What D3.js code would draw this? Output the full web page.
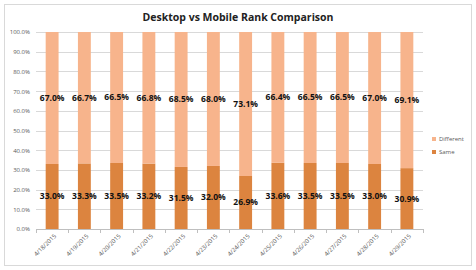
<!DOCTYPE html>
<html>
<head>
<meta charset="utf-8">
<script src="https://cdn.jsdelivr.net/npm/d3@7"></script>
<style>
  body { margin: 0; background: #fff; }
  svg { display: block; font-family: "Open Sans", "Liberation Sans", sans-serif; }
</style>
</head>
<body>
<div id="chart-area"></div>
<script>
// data
const dates = ["4/18/2015", "4/19/2015", "4/20/2015", "4/21/2015", "4/22/2015", "4/23/2015",
  "4/24/2015", "4/25/2015", "4/26/2015", "4/27/2015", "4/28/2015", "4/29/2015"]
const same = [33.0, 33.3, 33.5, 33.2, 31.5, 32.0, 26.9, 33.6, 33.5, 33.5, 33.0, 30.9]
const different = [67.0, 66.7, 66.5, 66.8, 68.5, 68.0, 73.1, 66.4, 66.5, 66.5, 67.0, 69.1]
const seriesNames = ["Different", "Same"]
const yTicks = [0, 10, 20, 30, 40, 50, 60, 70, 80, 90, 100]

const W = 476, H = 270
const margin = { left: 36, right: 53, top: 32, bottom: 41 }
const width = W - margin.left - margin.right,
  height = H - margin.top - margin.bottom

const colors = { Same: "#dc843f", Different: "#f7b48c" }

const svg = d3.select("#chart-area")
  .append("svg")
    .attr("width", W)
    .attr("height", H)

// outer frame
svg.append("rect")
  .attr("x", 4.5).attr("y", 4.5)
  .attr("width", W - 9).attr("height", H - 9)
  .attr("fill", "#fff")
  .attr("stroke", "#d9d9d9")

// title
svg.append("text")
  .attr("x", 238)
  .attr("y", 21)
  .attr("text-anchor", "middle")
  .attr("font-size", "10.5px")
  .attr("font-weight", "bold")
  .attr("fill", "#222")
  .text("Desktop vs Mobile Rank Comparison")

const g = svg.append("g")
  .attr("transform", `translate(${margin.left}, ${margin.top})`)

const x = d3.scaleBand()
  .domain(dates)
  .range([0, width])
  .paddingInner(0.6)
  .paddingOuter(0.3)

const y = d3.scaleLinear()
  .domain([0, 100])
  .range([height, 0])

// gridlines
g.append("g")
  .selectAll("line")
  .data(yTicks)
  .enter().append("line")
    .attr("x1", 0)
    .attr("x2", width)
    .attr("y1", d => Math.round(y(d)) + 0.5)
    .attr("y2", d => Math.round(y(d)) + 0.5)
    .attr("stroke", "#d9d9d9")

// y axis labels
const yAxisCall = d3.axisLeft(y)
  .tickValues(yTicks)
  .tickSize(0)
  .tickPadding(6)
  .tickFormat(d => d.toFixed(1) + "%")

const yAxisGroup = g.append("g").call(yAxisCall)
yAxisGroup.select(".domain").remove()
yAxisGroup.selectAll("text")
  .attr("font-size", "6px")
  .attr("fill", "#595959")
  .attr("font-family", "Open Sans, Liberation Sans, sans-serif")

// stacked bars
const rows = dates.map((d, i) => ({ date: d, Same: same[i], Different: different[i] }))
const stack = d3.stack().keys(["Same", "Different"])(rows)

stack.forEach(layer => {
  g.append("g")
    .attr("fill", colors[layer.key])
    .selectAll("rect")
    .data(layer)
    .enter().append("rect")
      .attr("x", d => x(d.data.date))
      .attr("width", x.bandwidth())
      .attr("y", d => y(d[1]))
      .attr("height", d => y(d[0]) - y(d[1]))

  g.append("g")
    .selectAll("text")
    .data(layer)
    .enter().append("text")
      .attr("x", d => x(d.data.date) + x.bandwidth() / 2)
      .attr("y", d => y((d[0] + d[1]) / 2))
      .attr("dy", "0.35em")
      .attr("text-anchor", "middle")
      .attr("font-size", "8.5px")
      .attr("font-weight", "bold")
      .attr("fill", "#111")
      .text(d => (d[1] - d[0]).toFixed(1) + "%")
})

// x axis line and ticks between categories
const xAxis = g.append("g").attr("transform", `translate(0, ${height})`)
xAxis.append("line")
  .attr("x1", 0).attr("x2", width)
  .attr("y1", 0.5).attr("y2", 0.5)
  .attr("stroke", "#bfbfbf")

const step = x.step()
const edges = dates.map(d => x(d) - step * x.paddingInner() / 2)
edges.push(width)
xAxis.selectAll(".tick-mark")
  .data(edges)
  .enter().append("line")
    .attr("x1", d => Math.round(d) + 0.5)
    .attr("x2", d => Math.round(d) + 0.5)
    .attr("y1", 0)
    .attr("y2", 4)
    .attr("stroke", "#bfbfbf")

xAxis.selectAll(".xlab")
  .data(dates)
  .enter().append("text")
    .attr("transform", d => `translate(${x(d) + x.bandwidth() / 2 + 3}, 6) rotate(-45)`)
    .attr("text-anchor", "end")
    .attr("dy", "0.35em")
    .attr("font-size", "6px")
    .attr("fill", "#595959")
    .text(d => d)

// legend
const legend = svg.append("g")
  .attr("transform", "translate(432, 139)")

seriesNames.forEach((name, i) => {
  const row = legend.append("g")
    .attr("transform", `translate(0, ${i * 13})`)
  row.append("rect")
    .attr("x", 0).attr("y", -2)
    .attr("width", 4)
    .attr("height", 4)
    .attr("fill", colors[name])
  row.append("text")
    .attr("x", 7)
    .attr("y", 0)
    .attr("dy", "0.35em")
    .attr("font-size", "6px")
    .attr("fill", "#595959")
    .text(name)
})
</script>
</body>
</html>
